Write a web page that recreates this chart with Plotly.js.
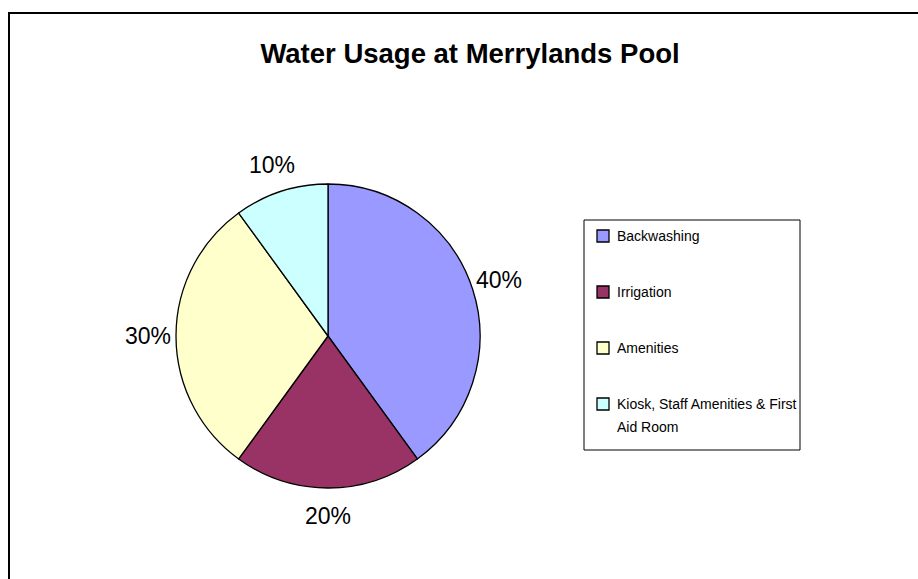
<!DOCTYPE html>
<html>
<head>
<meta charset="utf-8">
<script src="https://cdn.plot.ly/plotly-3.0.1.min.js"></script>
<style>
  html, body { margin: 0; padding: 0; background: #fff; }
  #wrap { position: relative; width: 918px; height: 579px; overflow: hidden; }
  #chart { position: absolute; left: 0; top: 0; width: 918px; height: 579px; }
  #frame { position: absolute; left: 8px; top: 12px; width: 940px; height: 600px;
           border-left: 2px solid #000; border-top: 2px solid #000; pointer-events: none; }
</style>
</head>
<body>
<div id="wrap">
  <div id="chart"></div>
  <div id="frame"></div>
</div>
<script>
// Data
const categories = ["Backwashing", "Irrigation", "Amenities", "Kiosk, Staff Amenities & First Aid Room"];
const legendLines = [["Backwashing"], ["Irrigation"], ["Amenities"], ["Kiosk, Staff Amenities & First", "Aid Room"]];
const values = [40, 20, 30, 10];
const colors = ["#9999FF", "#993366", "#FFFFCC", "#CCFFFF"];
const chartTitle = "Water Usage at Merrylands Pool";

const W = 918, H = 579;
const px = x => x / W;
const py = y => 1 - y / H;
const FONT = "Liberation Sans, Arial, sans-serif";

// pie geometry (layout only)
const cx = 328, cy0 = 336, R = 152, labelDist = 180;

const trace = {
  type: "pie",
  labels: categories,
  values: values,
  sort: false,
  direction: "clockwise",
  rotation: 0,
  marker: { colors: colors, line: { color: "#000", width: 1.3 } },
  textinfo: "none",
  domain: { x: [px(cx - R), px(cx + R)], y: [py(cy0 + R), py(cy0 - R)] },
  showlegend: false,
  hoverinfo: "label+percent"
};

const annotations = [];
// percentage labels derived from the values (placed around the slice middles)
const total = values.reduce((a, b) => a + b, 0);
let cum = 0;
values.forEach((v, i) => {
  const mid = (cum + v / 2) / total * 2 * Math.PI; // clockwise from 12 o'clock
  cum += v;
  const lx = cx + labelDist * Math.sin(mid);
  const ly = cy0 - labelDist * Math.cos(mid);
  annotations.push({
    xref: "paper", yref: "paper", x: px(lx), y: py(ly),
    xanchor: "center", yanchor: "middle", showarrow: false,
    text: Math.round(v / total * 100) + "%",
    font: { family: FONT, size: 23, color: "#000" }
  });
});

// Manual legend built from the arrays
const shapes = [{
  type: "rect", xref: "paper", yref: "paper",
  x0: px(584), x1: px(800), y0: py(450), y1: py(220),
  line: { color: "#000", width: 1 }, fillcolor: "rgba(0,0,0,0)"
}];
const rowTop = 236, rowStep = 56, lineStep = 23;
categories.forEach((c, i) => {
  const ry = rowTop + i * rowStep;
  shapes.push({
    type: "rect", xref: "paper", yref: "paper",
    x0: px(597), x1: px(609), y0: py(ry + 6), y1: py(ry - 6),
    fillcolor: colors[i], line: { color: "#000", width: 1.3 }
  });
  legendLines[i].forEach((ln, j) => {
    annotations.push({
      xref: "paper", yref: "paper", x: px(615), y: py(ry + j * lineStep),
      xanchor: "left", yanchor: "middle", showarrow: false,
      text: ln, font: { family: FONT, size: 14, color: "#000" }
    });
  });
});

const layout = {
  width: W, height: H,
  margin: { l: 0, r: 0, t: 0, b: 0 },
  paper_bgcolor: "#fff",
  plot_bgcolor: "#fff",
  title: {
    text: "<b>" + chartTitle + "</b>",
    x: px(470), xanchor: "center", y: py(53), yanchor: "middle",
    font: { family: FONT, size: 27.5, color: "#000" }
  },
  shapes: shapes,
  annotations: annotations,
  showlegend: false
};

Plotly.newPlot("chart", [trace], layout, { displayModeBar: false, staticPlot: true });
</script>
</body>
</html>
